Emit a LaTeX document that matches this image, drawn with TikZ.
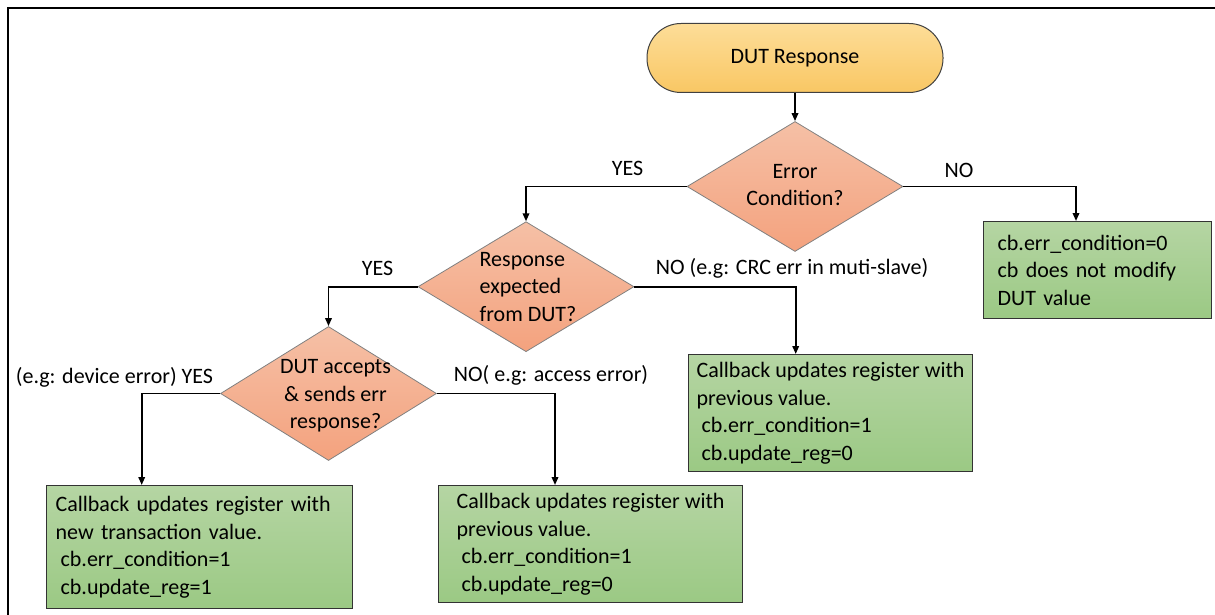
\documentclass[tikz,border=0pt]{standalone}
\usepackage{fontspec}
\setmainfont{Carlito}
\usetikzlibrary{arrows.meta,shapes.geometric}

\definecolor{termtop}{RGB}{253,221,152}
\definecolor{termbot}{RGB}{249,199,100}
\definecolor{dectop}{RGB}{245,192,166}
\definecolor{decbot}{RGB}{244,162,126}
\definecolor{cbtop}{RGB}{181,213,163}
\definecolor{cbbot}{RGB}{155,201,132}

\tikzset{
  every node/.style={font=\fontsize{22}{27.5}\selectfont},
  flow/.style={line width=1.8pt, -{Triangle[length=8pt,width=6.5pt]}},
  start/.style={rectangle, rounded corners=34pt, draw=black!75, line width=1pt,
    top color=termtop, bottom color=termbot, minimum width=296, minimum height=69},
  decision/.style={diamond, draw=black!50, line width=0.8pt, inner sep=0pt,
    top color=dectop, bottom color=decbot, minimum width=216, minimum height=130},
  cbbox/.style={rectangle, draw=black!80, line width=1.2pt, anchor=north west,
    top color=cbtop, bottom color=cbbot, align=left, inner xsep=0pt},
  lbl/.style={inner sep=0pt}
}

\begin{document}
\begin{tikzpicture}[x=1pt, y=-1pt]
  \useasboundingbox (0,0) rectangle (1215,615);
  % frame
  \draw[line width=2.4pt] (8,620) -- (8,8) -- (1220,8);

  % start
  \node[start] (dut) at (795,58) {DUT Response};

  % decisions
  \node[decision] (errc) at (795,186.5) {};
  \node[lbl, align=center] (errtxt) at (795,185) {Error\\Condition?};
  \node[decision] (resp) at (526,286.7) {};
  \node[lbl, align=left] (resptxt) at (528,286.7) {Response\\expected\\from DUT?};
  \node[decision, minimum height=134] (acc) at (328.5,393.5) {};
  \node[lbl, align=center] (acctxt) at (335.5,396) {DUT accepts\\\& sends err\\response?};

  % callback boxes
  \node[cbbox, inner xsep=14pt, text width=200, minimum height=97] (cbnoerr) at (983,221)
    {cb.err\_condition=0\\cb does not modify\\DUT value};
  \node[cbbox, minimum width=284, minimum height=117] (cbprevr) at (688,354)
    {Callback updates register with\\previous value.\\\hspace*{5pt}cb.err\_condition=1\\\hspace*{5pt}cb.update\_reg=0};
  \node[cbbox, inner xsep=9pt, text width=288, minimum height=123] (cbnew) at (46,485)
    {Callback updates register with\\new transaction value.\\\hspace*{5pt}cb.err\_condition=1\\\hspace*{5pt}cb.update\_reg=1};
  \node[cbbox, minimum width=304, minimum height=117] (cbprevl) at (438,485)
    {Callback updates register with\\previous value.\\\hspace*{5pt}cb.err\_condition=1\\\hspace*{5pt}cb.update\_reg=0};

  % branch labels
  \node[lbl] (yes1) at (627.5,168) {YES};
  \node[lbl] (no1) at (959,170.7) {NO};
  \node[lbl] (yes2) at (377.5,268) {YES};
  \node[lbl] (no2) at (792,268.3) {NO (e.g: CRC err in muti-slave)};
  \node[lbl] (yes3) at (114.5,377.7) {(e.g: device error) YES};
  \node[lbl] (no3) at (551,375) {NO( e.g: access error)};

  % drop points
  \coordinate (nodrop1) at (1076,186.5);
  \coordinate (nodrop2) at (795.7,286.7);
  \coordinate (yesdrop3) at (141.7,393.5);
  \coordinate (nodrop3) at (555,393.5);

  % connectors
  \draw[flow] (dut) -- (errc);
  \draw[flow] (errc.west) -| (resp.north);
  \draw[flow] (errc.east) -- (nodrop1) -- (nodrop1 |- cbnoerr.north);
  \draw[flow] (resp.west) -| (acc.north);
  \draw[flow] (resp.east) -- (nodrop2) -- (nodrop2 |- cbprevr.north);
  \draw[flow] (acc.west) -- (yesdrop3) -- (yesdrop3 |- cbnew.north);
  \draw[flow] (acc.east) -- (nodrop3) -- (nodrop3 |- cbprevl.north);
\end{tikzpicture}
\end{document}
